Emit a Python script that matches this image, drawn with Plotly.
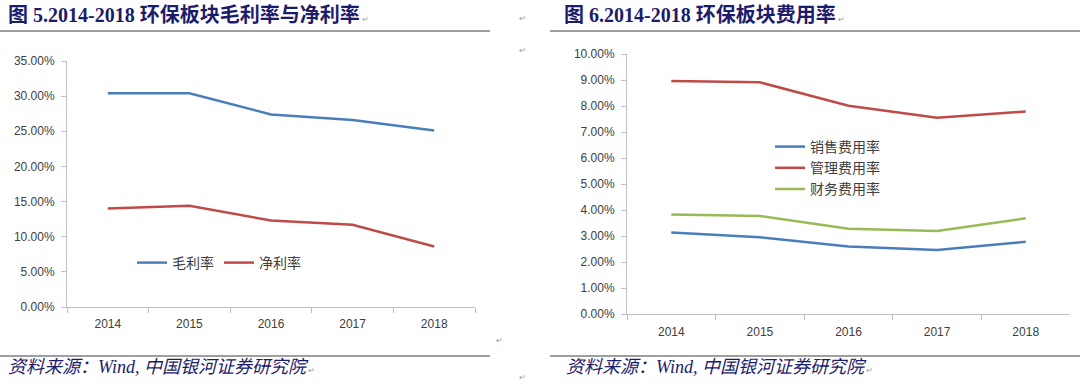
import plotly.graph_objects as go

years = ["2014", "2015", "2016", "2017", "2018"]
gross_margin = [0.304, 0.304, 0.274, 0.266, 0.251]
net_margin = [0.140, 0.144, 0.123, 0.117, 0.086]

sales_exp = [0.0313, 0.0295, 0.0260, 0.0246, 0.0278]
admin_exp = [0.0896, 0.0891, 0.0801, 0.0755, 0.0779]
fin_exp = [0.0383, 0.0377, 0.0328, 0.0319, 0.0368]

left_title = "图 5.2014-2018 环保板块毛利率与净利率"
right_title = "图 6.2014-2018 环保板块费用率"
source = "资料来源：Wind, 中国银河证券研究院"

BLUE = "#4a7ebb"
RED = "#be4b48"
GREEN = "#98b954"
NAVY = "#1c1c6c"
W, H = 1080, 387

fig = go.Figure()
fig.add_trace(go.Scatter(x=years, y=gross_margin, name="毛利率", mode="lines",
                         line=dict(color=BLUE, width=2.5), xaxis="x", yaxis="y", legend="legend"))
fig.add_trace(go.Scatter(x=years, y=net_margin, name="净利率", mode="lines",
                         line=dict(color=RED, width=2.5), xaxis="x", yaxis="y", legend="legend"))
fig.add_trace(go.Scatter(x=years, y=sales_exp, name="销售费用率", mode="lines",
                         line=dict(color=BLUE, width=2.5), xaxis="x2", yaxis="y2", legend="legend2"))
fig.add_trace(go.Scatter(x=years, y=admin_exp, name="管理费用率", mode="lines",
                         line=dict(color=RED, width=2.5), xaxis="x2", yaxis="y2", legend="legend2"))
fig.add_trace(go.Scatter(x=years, y=fin_exp, name="财务费用率", mode="lines",
                         line=dict(color=GREEN, width=2.5), xaxis="x2", yaxis="y2", legend="legend2"))

tickfont = dict(family="Liberation Sans, Arial, sans-serif", size=12, color="#404040")
axis_common = dict(showline=True, linecolor="#bfbfbf", linewidth=1, showgrid=False,
                   zeroline=False, ticks="outside", tickcolor="#bfbfbf", ticklen=5,
                   tickfont=tickfont, fixedrange=True, automargin=False)

def px_x(p):
    return p / W

def px_y(p):
    return 1 - p / H

legend_font = dict(family="Noto Sans CJK SC", size=14, color="#404040")
fig.update_layout(
    width=W, height=H,
    margin=dict(l=0, r=0, t=0, b=0, pad=0, autoexpand=False),
    paper_bgcolor="white", plot_bgcolor="white",
    xaxis=dict(domain=[px_x(67), px_x(475)], type="category", range=[-0.5, 4.5],
               tickson="boundaries", anchor="y", ticklabelstandoff=6, **axis_common),
    yaxis=dict(domain=[px_y(307), px_y(61)], range=[0, 0.35], dtick=0.05,
               tickformat=".2%", anchor="x", ticklabelstandoff=4, **axis_common),
    xaxis2=dict(domain=[px_x(627), px_x(1070)], type="category", range=[-0.5, 4.5],
                tickson="boundaries", anchor="y2", ticklabelstandoff=7, **axis_common),
    yaxis2=dict(domain=[px_y(314), px_y(54)], range=[0, 0.10], dtick=0.01,
                tickformat=".2%", anchor="x2", ticklabelstandoff=4, **axis_common),
    legend=dict(orientation="h", x=px_x(132), y=px_y(263), xanchor="left", yanchor="middle",
                font=legend_font, bgcolor="rgba(0,0,0,0)", itemwidth=30, tracegroupgap=0),
    legend2=dict(orientation="v", x=px_x(770), y=px_y(131), xanchor="left", yanchor="top",
                 font=legend_font, bgcolor="rgba(0,0,0,0)", itemwidth=30, tracegroupgap=0),
    showlegend=True,
)

mark = "<span style='font-size:8px;color:#9a9a9a;font-weight:normal;font-style:normal'> ↵</span>"
title_font = dict(family="Liberation Serif, Noto Sans CJK SC", size=20, color=NAVY)
src_font = dict(family="Liberation Serif, Noto Sans CJK SC", size=18, color=NAVY)
annos = [
    dict(text="<b>" + left_title + "</b>" + mark, x=px_x(6), y=px_y(15), xanchor="left",
         yanchor="middle", font=title_font),
    dict(text="<b>" + right_title + "</b>" + mark, x=px_x(562), y=px_y(15), xanchor="left",
         yanchor="middle", font=title_font),
    dict(text="<i>" + source + "</i>" + mark, x=px_x(6), y=px_y(367), xanchor="left",
         yanchor="middle", font=src_font),
    dict(text="<i>" + source + "</i>" + mark, x=px_x(564), y=px_y(367), xanchor="left",
         yanchor="middle", font=src_font),
]
for (mx, my) in [(522, 17), (522, 50), (499, 339), (522, 376)]:
    annos.append(dict(text="↵", x=px_x(mx), y=px_y(my), xanchor="center", yanchor="middle",
                      font=dict(size=8, color="#9a9a9a"), showarrow=False))
for a in annos:
    a.setdefault("showarrow", False)
    a["xref"] = "paper"
    a["yref"] = "paper"
fig.update_layout(annotations=annos)

shapes = []
for (x0, x1, yy) in [(0, 490, 31), (550, 1080, 31), (0, 490, 356), (550, 1080, 356)]:
    shapes.append(dict(type="line", xref="paper", yref="paper",
                       x0=px_x(x0), x1=px_x(x1), y0=px_y(yy), y1=px_y(yy),
                       line=dict(color="#7f7f7f", width=1.5)))
fig.update_layout(shapes=shapes)

post = (
    "document.body.style.margin='0';"
    "document.documentElement.style.overflow='hidden';"
    "document.body.style.overflow='hidden';"
    "var gd=document.getElementById('{plot_id}');"
    "gd.style.position='fixed';gd.style.top='0';gd.style.left='0';"
)
fig.write_html("out.html", config={"displayModeBar": False}, post_script=post)
